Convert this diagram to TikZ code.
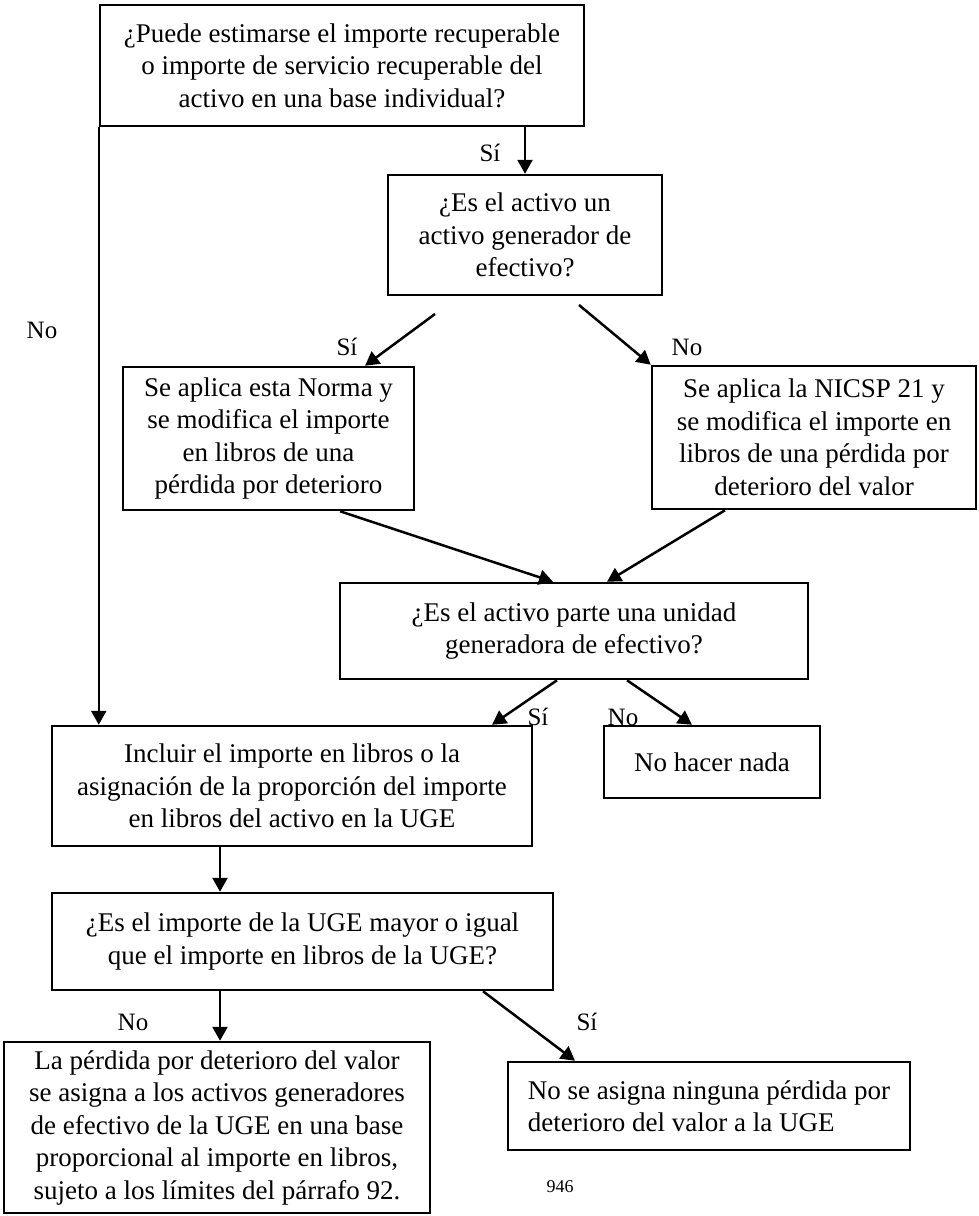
\documentclass[tikz,border=0pt]{standalone}
\usepackage{fontspec}
\setmainfont{Liberation Serif}
\usepackage{tikz}
\usetikzlibrary{positioning,calc,arrows.meta}
\tikzstyle{caja}= [rectangle, draw, line width=2.5pt, align=center, inner sep=0pt, font=\fontsize{27}{32.5}\selectfont]
\tikzstyle{flecha}= [line width=2.5pt, -{Triangle[length=14pt,width=15pt]}]
\tikzstyle{etq}= [inner sep=0pt, font=\fontsize{25}{28}\selectfont]

\begin{document}
\begin{tikzpicture}[x=1pt,y=-1pt]
				\useasboundingbox (0,0) rectangle (978,1216);
				\node[caja, minimum width=484pt, minimum height=121pt] (c1) at (342,65.5) {¿Puede estimarse el importe recuperable\\o importe de servicio recuperable del\\activo en una base individual?};
				\node[caja, minimum width=274pt, minimum height=120pt] (c2) at (525,235) {¿Es el activo un\\activo generador de\\efectivo?};
				\node[caja, minimum width=291pt, minimum height=143pt] (c3) at (268.5,438.5) {Se aplica esta Norma y\\se modifica el importe\\en libros de una\\pérdida por deterioro};
				\node[caja, minimum width=324pt, minimum height=143pt] (c4) at (814,437.5) {Se aplica la NICSP 21 y\\se modifica el importe en\\libros de una pérdida por\\deterioro del valor};
				\node[caja, minimum width=468pt, minimum height=96pt] (c5) at (574,631) {¿Es el activo parte una unidad\\generadora de efectivo?};
				\node[caja, minimum width=480pt, minimum height=120pt] (c6) at (292,786) {Incluir el importe en libros o la\\asignación de la proporción del importe\\en libros del activo en la UGE};
				\node[caja, minimum width=216pt, minimum height=72pt] (c7) at (712,762) {No hacer nada};
				\node[caja, minimum width=501pt, minimum height=97pt] (c8) at (302.5,941.5) {¿Es el importe de la UGE mayor o igual\\que el importe en libros de la UGE?};
				\node[caja, minimum width=426pt, minimum height=171pt] (c9) at (217,1127.5) {La pérdida por deterioro del valor\\se asigna a los activos generadores\\de efectivo de la UGE en una base\\proporcional al importe en libros,\\sujeto a los límites del párrafo 92.};
				\node[caja, align=left, minimum width=402pt, minimum height=88pt] (c10) at (709,1106) {No se asigna ninguna pérdida por\\deterioro del valor a la UGE};
				\coordinate (d1) at (435,314);
				\coordinate (d2) at (579,305);
				\draw[flecha] (c2.north |- c1.south) -- (c2.north);
				\draw[flecha] (c1.south west) -- (c1.south west |- c6.north);
				\draw[flecha] (d1) -- ([xshift=96.5pt]c3.north);
				\draw[flecha] (d2) -- (c4.north west);
				\draw[flecha] ([xshift=71.5pt]c3.south) -- ([xshift=-21pt]c5.north);
				\draw[flecha] ([xshift=-89pt]c4.south) -- ([xshift=33pt]c5.north);
				\draw[flecha] ([xshift=-17pt]c5.south) -- ([xshift=200pt]c6.north);
				\draw[flecha] ([xshift=53pt]c5.south) -- ([xshift=-20pt]c7.north);
				\draw[flecha] ([xshift=-72pt]c6.south) -- ([xshift=-82.5pt]c8.north);
				\draw[flecha] ([xshift=-82.5pt]c8.south) -- ([xshift=3pt]c9.north);
				\draw[flecha] ([xshift=180.5pt]c8.south) -- ([xshift=-134pt]c10.north);
				\node[etq] (l1) at (490,153) {Sí};
				\node[etq] (l2) at (42,330) {No};
				\node[etq] (l3) at (347,347) {Sí};
				\node[etq] (l4) at (687,347) {No};
				\node[etq] (l5) at (538,717) {Sí};
				\node[etq] (l6) at (623,717) {No};
				\node[etq] (l7) at (133,1022) {No};
				\node[etq] (l8) at (587,1022) {Sí};
				\node[inner sep=0pt, font=\fontsize{18}{20}\selectfont] (pag) at (560,1187) {946};
			\end{tikzpicture}
\end{document}
